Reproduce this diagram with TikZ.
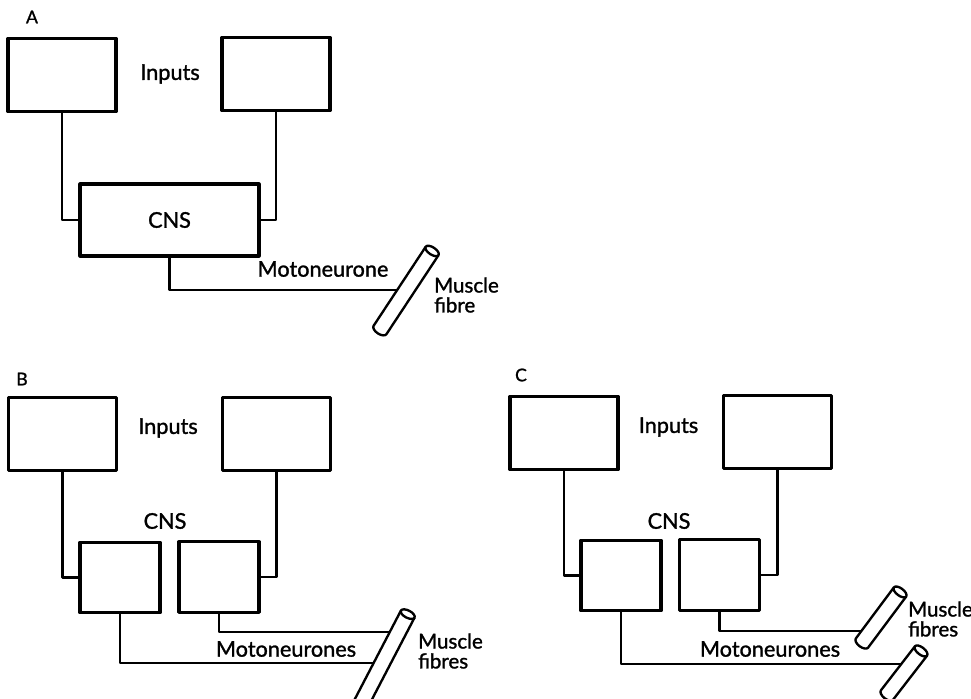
\documentclass[tikz,border=0pt]{standalone}
\usepackage{fontspec}
\setmainfont{Lato}
\newfontfamily\lblfont{Lato}[FakeBold=1.3]
\usepackage{tikz}

% muscle fibre: bottom point, angle, length
\newcommand{\fibre}[3]{%
  \begin{scope}[shift={#1},rotate=#2]
    \fill[white] (0,0.23cm) -- (#3,0.23cm) -- (#3,-0.23cm) -- (0,-0.23cm) arc[start angle=270,end angle=90,x radius=0.12cm,y radius=0.23cm] -- cycle;
    \draw (#3,-0.23cm) -- (0,-0.23cm) arc[start angle=270,end angle=90,x radius=0.12cm,y radius=0.23cm] -- (#3,0.23cm);
    \filldraw[fill=white] (#3,0) ellipse[x radius=0.11cm,y radius=0.23cm];
  \end{scope}}

\begin{document}
\begin{tikzpicture}[x=0.03cm,y=-0.03cm,line width=2pt,line join=round]
 \tikzstyle{inbox}=[draw,rectangle,line width=2.6pt,minimum width=3.24cm,minimum height=2.2cm]
 \tikzstyle{cell}=[draw,rectangle,line width=2.6pt,minimum width=2.4cm,minimum height=2.12cm]
 \tikzstyle{wire}=[line width=2.3pt]
 \tikzstyle{lbl}=[font=\lblfont\fontsize{18.5}{20}\selectfont]
 \tikzstyle{panel}=[font=\lblfont\fontsize{15}{17}\selectfont]
 \tikzstyle{side}=[align=left,anchor=west,inner sep=0pt,font=\lblfont\fontsize{17.5}{17}\selectfont]

 \clip (0,0) rectangle (971,699);

 % A
 \node[panel] (labA) at (32,17) {A};
 \node[inbox] (inA1) at (62,75) {};
 \node[inbox] (inA2) at (276,74) {};
 \node[lbl] (inpA) at (170,74) {Inputs};
 \node[draw,rectangle,line width=2.6pt,minimum width=5.37cm,minimum height=2.16cm,lbl] (cnsA) at (169.5,220) {CNS};
 \node[lbl] (motA) at (323,269) {Motoneurone};
 \node[side] (musA) at (433,295) {Muscle\\fibre};
 \coordinate (mA) at (406,290);

 \draw[wire] (inA1) |- (cnsA);
 \draw[wire] (inA2) |- (cnsA);
 \draw[wire] (cnsA) |- (mA);
 \fibre{(380,330)}{56.6}{2.84cm}

 % B
 \node[panel] (labB) at (22,379) {B};
 \node[inbox] (inB1) at (62.5,434) {};
 \node[inbox] (inB2) at (276.5,434) {};
 \node[lbl] (inpB) at (168,428) {Inputs};
 \node[lbl] (cnsB) at (165,521) {CNS};
 \node[cell] (cnsB1) at (120,577.5) {};
 \node[cell] (cnsB2) at (219,577) {};
 \node[lbl] (motB) at (286,649) {Motoneurones};
 \node[side] (musB) at (417,651) {Muscle\\fibres};
 \coordinate (mB1) at (382,663);
 \coordinate (mB2) at (398,632);

 \draw[wire] (inB1) |- (cnsB1);
 \draw[wire] (inB2) |- (cnsB2);
 \draw[wire] (cnsB1) |- (mB1);
 \draw[wire] (cnsB2) |- (mB2);
 \fibre{(350,725)}{62.5}{3.75cm}

 % C
 \node[panel] (labC) at (521,375) {C};
 \node[inbox] (inC1) at (564,433) {};
 \node[inbox] (inC2) at (777.5,432) {};
 \node[lbl] (inpC) at (668.5,427) {Inputs};
 \node[lbl] (cnsC) at (669,521) {CNS};
 \node[cell] (cnsC1) at (621,575.5) {};
 \node[cell] (cnsC2) at (719.5,575) {};
 \node[lbl] (motC) at (770,649) {Motoneurones};
 \node[side] (musC) at (907,619) {Muscle\\fibres};
 \coordinate (mC1) at (911,664);
 \coordinate (mC2) at (871,631);

 \draw[wire] (inC1) |- (cnsC1);
 \draw[wire] (inC2) |- (cnsC2);
 \draw[wire] (cnsC1) |- (mC1);
 \draw[wire] (cnsC2) |- (mC2);
 \fibre{(862,643)}{53.3}{1.91cm}
 \fibre{(887,695)}{52.3}{1.67cm}
\end{tikzpicture}
\end{document}
